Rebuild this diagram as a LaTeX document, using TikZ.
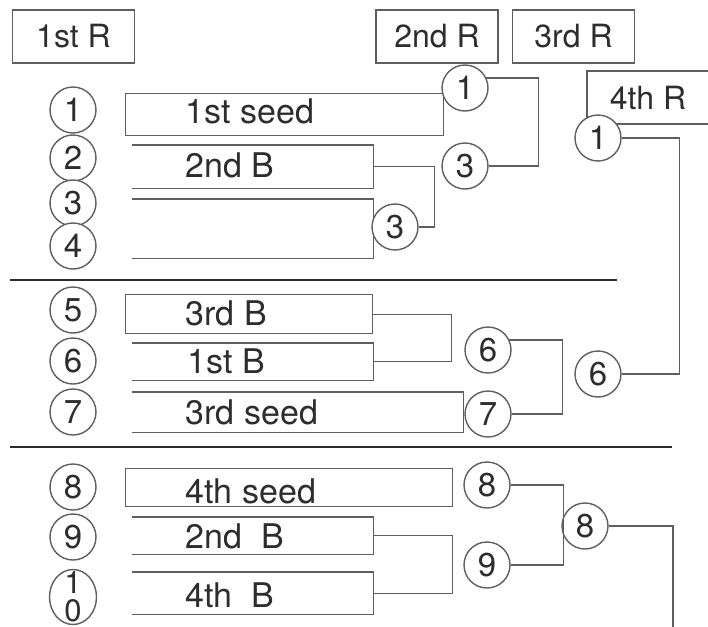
\documentclass[tikz,border=0pt]{standalone}
\usepackage{fontspec}
\setmainfont{TeX Gyre Heros}
\usetikzlibrary{shapes.geometric}
\definecolor{ink}{RGB}{45,45,45}
\definecolor{linegray}{RGB}{95,95,95}
\begin{document}
\begin{tikzpicture}[x=0.5pt, y=-0.5pt, line width=0.7pt,
    every node/.style={text=ink},
    roundbox/.style={draw=linegray, rectangle, minimum width=61pt, minimum height=26.5pt, font=\fontsize{16}{19}\selectfont},
    slotbox/.style={anchor=north west, inner sep=0pt},
    entry/.style={anchor=base west, inner sep=0pt, font=\fontsize{17}{20}\selectfont},
    seat/.style={draw=linegray, circle, fill=white, minimum size=23pt, inner sep=0pt, font=\fontsize{16.5}{19}\selectfont},
    link/.style={draw=linegray},
    sepline/.style={draw=ink}
    ]
    \useasboundingbox (0,0) rectangle (708,627);

    % Draw the round headers
    \node[roundbox] (h1) at (73.5,36.5) {1st R};
    \node[roundbox] (h2) at (437,36.5) {2nd R};
    \node[roundbox] (h3) at (573.5,36.5) {3rd R};
    \node[roundbox] (h4) at (648,97.5) {4th R};

    % Draw the slots of the first round
    \node[slotbox, draw=linegray, minimum width=159pt, minimum height=21pt] (b1) at (125,93) {};
    \node[slotbox, minimum width=120pt, minimum height=21pt] (b2) at (132,145) {};
    \node[slotbox, minimum width=120pt, minimum height=29pt] (b34) at (132,199) {};
    \node[slotbox, draw=linegray, minimum width=123.5pt, minimum height=19.5pt] (b5) at (125,294) {};
    \node[slotbox, minimum width=120pt, minimum height=18pt] (b6) at (132,343) {};
    \node[slotbox, minimum width=165pt, minimum height=19.5pt] (b7) at (132,392) {};
    \node[slotbox, draw=linegray, minimum width=163.5pt, minimum height=19pt] (b8) at (125,468) {};
    \node[slotbox, minimum width=120pt, minimum height=18pt] (b9) at (132,517) {};
    \node[slotbox, minimum width=120pt, minimum height=20.5pt] (b10) at (132,572) {};
    \draw[link] (b2.north west) -- (b2.north east) -- (b2.south east) -- (b2.south west);
    \draw[link] (b34.north west) -- (b34.north east) -- (b34.south east) -- (b34.south west);
    \draw[link] (b6.north west) -- (b6.north east) -- (b6.south east) -- (b6.south west);
    \draw[link] (b7.north west) -- (b7.north east) -- (b7.south east) -- (b7.south west);
    \draw[link] (b9.north west) -- (b9.north east) -- (b9.south east) -- (b9.south west);
    \draw[link] (b10.north west) -- (b10.north east) -- (b10.south east) -- (b10.south west);

    % Draw the entries
    \node[entry] (t1) at (185,123) {1st seed};
    \node[entry] (t2) at (185,177) {2nd B};
    \node[entry] (t5) at (185,325) {3rd B};
    \node[entry] (t6) at (187,373) {1st B};
    \node[entry] (t7) at (185,424) {3rd seed};
    \node[entry] (t8) at (185,503) {4th seed};
    \node[entry] (t9) at (185,548) {2nd\ \ B};
    \node[entry] (t10) at (185,607) {4th\ \ B};

    % Draw the group separators
    \draw[sepline] (10,280) -- (617,280);
    \draw[sepline] (10,447) -- (672,447);

    % Draw the first round numbers
    \node[seat] (r1) at (73,110) {1};
    \node[seat] (r2) at (73,158) {2};
    \node[seat] (r3) at (73,203) {3};
    \node[seat] (r4) at (73,246) {4};
    \node[seat] (r5) at (73,310) {5};
    \node[seat] (r6) at (73,361) {6};
    \node[seat] (r7) at (73,412) {7};
    \node[seat] (r8) at (73,487) {8};
    \node[seat] (r9) at (73,537) {9};
    \node[seat, ellipse, minimum width=23.5pt, minimum height=27.5pt] (r10) at (73,597) {};
    \node[align=center, inner sep=0pt, font=\fontsize{15.5}{14}\selectfont] (r10num) at (r10) {1\\0};

    % Draw the winners
    \node[seat] (s1) at (465,88) {1};
    \node[seat] (s3) at (395,227) {3};
    \node[seat] (s3b) at (465,166) {3};
    \node[seat] (s6) at (488,350) {6};
    \node[seat] (s7) at (488,414) {7};
    \node[seat] (s8) at (487,485) {8};
    \node[seat] (s9) at (487,565) {9};
    \node[seat] (q1) at (598,138) {1};
    \node[seat] (q6) at (598,374) {6};
    \node[seat] (q8) at (585,526) {8};

    % Draw connections
    \draw[link] (b2.east) -- ++(61,0) |- (s3.east);
    \draw[link] (s1.25) -- ++(52,0) |- (s3b.east);
    \draw[link] (q1.east) -- ++(58,0) |- (q6.east);
    \draw[link] (b5.east) -- ++(78,0) |- (b6.east);
    \draw[link] (s6.25) -- ++(53,0) |- (s7.east);
    \draw[link] (b9.east) -- ++(79,0) |- (b10.east);
    \draw[link] (s8.east) -- ++(53,0) |- (s9.east);
    \coordinate (final) at (673,627);
    \draw[link] (q8.east) -| (final);

\end{tikzpicture}
\end{document}
